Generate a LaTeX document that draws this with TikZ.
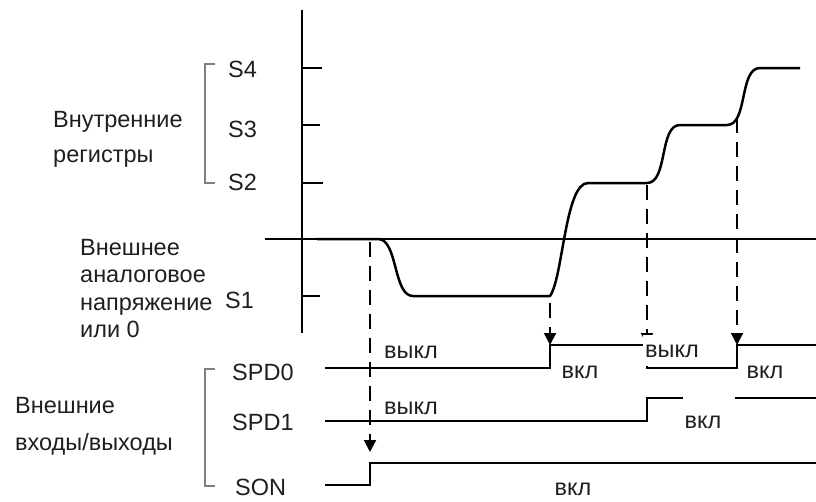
\documentclass[tikz,border=0pt]{standalone}
\usepackage{fontspec}
\setmainfont{Liberation Sans}
\usetikzlibrary{arrows.meta}
\begin{document}
\begin{tikzpicture}[x=1pt,y=-1pt,
  lbl/.style={font=\fontsize{23.5}{28}\selectfont, inner sep=0pt, anchor=base west, text=black!88},
  st/.style={font=\fontsize{23.5}{28}\selectfont, inner sep=0pt, anchor=base, text=black!88},
  cover/.style={fill=white, minimum width=58pt, minimum height=31pt},
  sig/.style={line width=2pt, line join=miter},
  tk/.style={line width=2pt},
  dsh/.style={line width=2pt, dash pattern=on 15pt off 9pt, -{Triangle[length=12pt,width=12pt]}},
  brk/.style={line width=1.6pt, draw=black!50},
  wave/.style={line width=2.5pt, line join=round}]
\useasboundingbox (0,0) rectangle (816,501);

% axes
\coordinate (axT) at (302,10);
\coordinate (axB) at (302,333);
\draw[line width=2pt] (axT) -- (axB);
\coordinate (zL) at (265,239);
\coordinate (zR) at (816,239);
\draw[line width=1.6pt] (zL) -- (zR);

% ticks
\draw[tk] (302,68) -- (322,68);
\draw[tk] (302,125) -- (320,125);
\draw[tk] (302,183) -- (323,183);
\draw[tk] (302,296) -- (320,296);

% brackets
\draw[brk] (215,64) -- (205,64) -- (205,183) -- (215,183);
\draw[brk] (215,369) -- (205,369) -- (205,486) -- (215,486);

% left labels
\node[lbl] (l1) at (53,127) {Внутренние};
\node[lbl] (l2) at (53,162) {регистры};
\node[lbl] (l3) at (80,255) {Внешнее};
\node[lbl] (l4) at (80,282) {аналоговое};
\node[lbl] (l5) at (80,310) {напряжение};
\node[lbl] (l6) at (80,337) {или 0};
\node[lbl] (l7) at (15,413) {Внешние};
\node[lbl] (l8) at (15,450) {входы/выходы};

\node[lbl] (s4) at (228,77) {S4};
\node[lbl] (s3) at (228,137) {S3};
\node[lbl] (s2) at (228,190) {S2};
\node[lbl] (s1) at (225,308) {S1};
\node[lbl] (p0) at (232,380) {SPD0};
\node[lbl] (p1) at (232,430) {SPD1};
\node[lbl] (son) at (235,495) {SON};

% waveform
\draw[wave] (317,239) -- (378,239) .. controls (398,239) and (393,296) .. (413,296)
  -- (550,296) .. controls (563,278) and (565,183) .. (588,183)
  -- (647,183) .. controls (668,183) and (659,125) .. (680,125)
  -- (727,125) .. controls (748,125) and (739,68) .. (760,68) -- (800,68);

% digital signals
\draw[sig] (325,368) -- (550,368) -- (550,345) -- (647,345) -- (647,368) -- (737,368) -- (737,345) -- (816,345);
\draw[sig] (325,421) -- (647,421) -- (647,398) -- (683,398);
\draw[sig] (735,398) -- (816,398);
\draw[sig] (325,485) -- (370,485) -- (370,463) -- (816,463);

% dashed arrows
\coordinate (a1) at (370,242); \coordinate (b1) at (370,452);
\coordinate (a2) at (550,303); \coordinate (b2) at (550,345);
\coordinate (a3) at (647,185); \coordinate (b3) at (647,345);
\coordinate (a4) at (737,118); \coordinate (b4) at (737,345);
\draw[dsh] (a1) -- (b1);
\draw[dsh] (a2) -- (b2);
\draw[dsh] (a3) -- (b3);
\draw[dsh] (a4) -- (b4);

% state labels
\node[st] (t1) at (411,358) {выкл};
\node[st] (t2) at (411,414) {выкл};
\node[st] (t3) at (580,378) {вкл};
\node[st, cover] (t4) at (672,357) {выкл};
\node[st] (t5) at (765,378) {вкл};
\node[st] (t6) at (703,428) {вкл};
\node[st] (t7) at (573,495) {вкл};
\end{tikzpicture}
\end{document}
